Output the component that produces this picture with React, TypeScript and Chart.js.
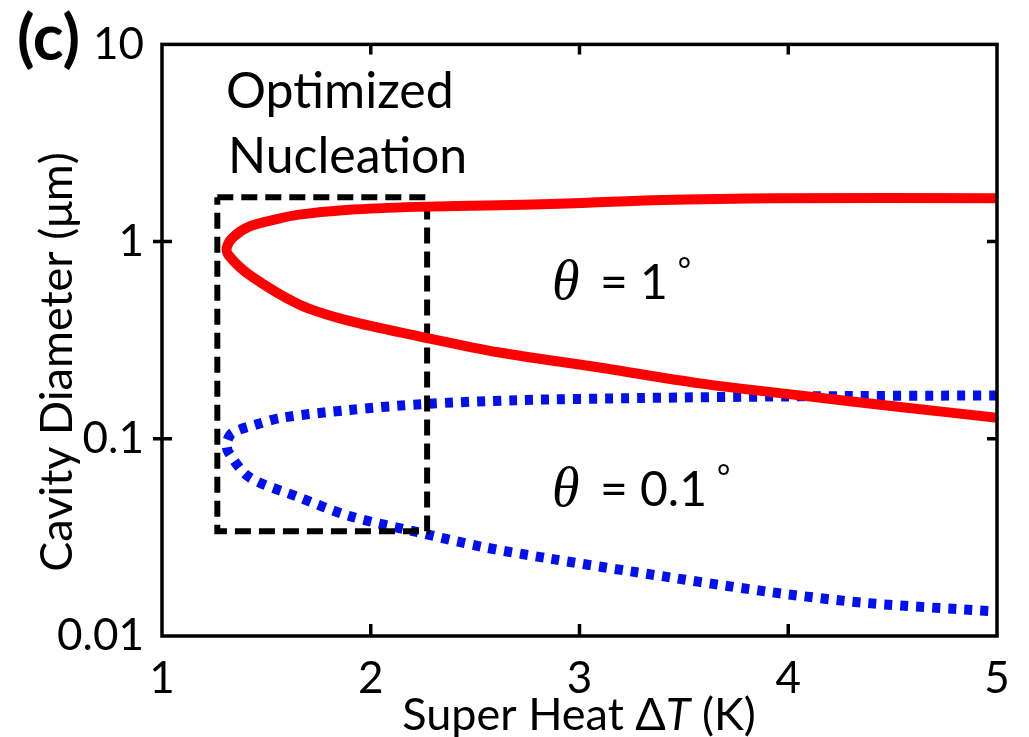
import React, { useEffect, useRef } from "react";
import { Chart, registerables } from "chart.js";

Chart.register(...registerables);

// ---- data ----
const xTicks = [1, 2, 3, 4, 5];
const yTicks = [0.01, 0.1, 1, 10];
const yTickLabels = ["0.01", "0.1", "1", "10"];

// θ = 1° curve: upper branch (from right end to vertex), then lower branch
const theta1X = [5, 3.94, 3.35, 2.94, 2.616, 2.22, 1.897, 1.657, 1.55, 1.417, 1.34, 1.31, 1.32, 1.417, 1.657, 1.897, 2.22, 2.616, 3.096, 3.576, 4.055, 4.535, 5];
const theta1Y = [1.66, 1.66, 1.62, 1.56, 1.53, 1.5, 1.45, 1.37, 1.3, 1.19, 1.05, 0.93, 0.85, 0.68, 0.48, 0.396, 0.333, 0.274, 0.23, 0.191, 0.166, 0.145, 0.128];

// θ = 0.1° curve
const theta01X = [5, 4, 3.3, 2.7, 2.247, 1.897, 1.576, 1.45, 1.336, 1.31, 1.32, 1.417, 1.657, 1.897, 2.22, 2.535, 2.856, 3.254, 3.897, 4.376, 5];
const theta01Y = [0.166, 0.164, 0.161, 0.157, 0.15, 0.14, 0.128, 0.118, 0.107, 0.095, 0.085, 0.064, 0.0505, 0.0406, 0.0337, 0.0283, 0.0247, 0.0212, 0.0168, 0.0147, 0.0133];

// "Optimized Nucleation" dashed box
const boxX = [1.265, 2.27, 2.27, 1.265, 1.265];
const boxY = [1.68, 1.68, 0.034, 0.034, 1.68];

const xTitleParts = ["Super Heat Δ", "T", " (K)"];
const yTitle = "Cavity Diameter (μm)";
const panelLabel = "(c)";
const boxLabel = ["Optimized", "Nucleation"];
const label1 = "1";
const label2 = "0.1";

const SANS = "Lato, 'Open Sans', sans-serif";
const SERIF = "'Liberation Serif', 'DejaVu Serif', serif";

const toPts = (xs: number[], ys: number[]) => xs.map((x, i) => ({ x, y: ys[i] }));

const decorPlugin = {
  id: "decor",
  afterDraw(chart: any) {
    const ctx = chart.ctx as CanvasRenderingContext2D;
    const { left, right, top, bottom } = chart.chartArea;
    const xs = chart.scales.x;
    const ys = chart.scales.y;
    ctx.save();
    // frame
    ctx.strokeStyle = "#000";
    ctx.lineWidth = 3.5;
    ctx.strokeRect(left, top, right - left, bottom - top);
    // ticks
    ctx.lineWidth = 3.5;
    ctx.beginPath();
    for (const v of [2, 3, 4]) {
      const px = xs.getPixelForValue(v);
      ctx.moveTo(px, bottom);
      ctx.lineTo(px, bottom - 12);
      ctx.moveTo(px, top);
      ctx.lineTo(px, top + 10);
    }
    for (const v of [0.1, 1]) {
      const py = ys.getPixelForValue(v);
      ctx.moveTo(left - 9, py);
      ctx.lineTo(left + 10, py);
      ctx.moveTo(right, py);
      ctx.lineTo(right - 10, py);
    }
    ctx.stroke();

    ctx.fillStyle = "#000";
    ctx.textBaseline = "alphabetic";
    // panel label
    ctx.font = `bold 64px ${SANS}`;
    ctx.textAlign = "left";
    ctx.fillText(panelLabel, 17, 60);

    // x title with italic T
    const xf = 45;
    ctx.font = `${xf}px ${SANS}`;
    const p0 = xTitleParts[0];
    const p2 = xTitleParts[2];
    const w0 = ctx.measureText(p0).width;
    const w2 = ctx.measureText(p2).width;
    ctx.font = `italic ${xf}px ${SANS}`;
    const w1 = ctx.measureText(xTitleParts[1]).width;
    const total = w0 + w1 + w2;
    let sx = 579 - total / 2;
    const by = 730;
    ctx.font = `${xf}px ${SANS}`;
    ctx.fillText(p0, sx, by);
    sx += w0;
    ctx.font = `italic ${xf}px ${SANS}`;
    ctx.fillText(xTitleParts[1], sx, by);
    sx += w1;
    ctx.font = `${xf}px ${SANS}`;
    ctx.fillText(p2, sx, by);

    // y title
    ctx.save();
    ctx.translate(72, 362);
    ctx.rotate(-Math.PI / 2);
    ctx.textAlign = "center";
    ctx.font = `45px ${SANS}`;
    ctx.fillText(yTitle, 0, 0);
    ctx.restore();

    // box label
    ctx.font = `50px ${SANS}`;
    ctx.textAlign = "left";
    ctx.fillText(boxLabel[0], 226, 108);
    ctx.fillText(boxLabel[1], 228, 173);

    // theta labels
    const drawTheta = (x: number, y: number, val: string) => {
      ctx.textAlign = "left";
      ctx.font = `italic 56px ${SERIF}`;
      ctx.fillText("θ", x, y);
      ctx.font = `48px ${SANS}`;
      ctx.fillText("=", x + 48, y);
      ctx.fillText(val, x + 88, y);
      const wv = ctx.measureText(val).width;
      ctx.font = `32px ${SANS}`;
      ctx.fillText("°", x + 88 + wv + 10, y - 18);
    };
    drawTheta(552, 299, label1);
    drawTheta(552, 506, label2);
    ctx.restore();
  },
};

export default function App() {
  const ref = useRef<HTMLCanvasElement | null>(null);
  useEffect(() => {
    if (!ref.current) return;
    const chart = new Chart(ref.current, {
      type: "scatter",
      data: {
        datasets: [
          {
            data: toPts(theta1X, theta1Y),
            showLine: true,
            borderColor: "#ff0000",
            borderWidth: 10,
            pointRadius: 0,
            tension: 0.3,
          },
          {
            data: toPts(boxX, boxY),
            showLine: true,
            borderColor: "#000000",
            borderWidth: 6,
            borderDash: [16, 8],
            pointRadius: 0,
            tension: 0,
          },
          {
            data: toPts(theta01X, theta01Y),
            showLine: true,
            borderColor: "#0010f0",
            borderWidth: 10,
            borderDash: [8, 8],
            borderCapStyle: "butt",
            pointRadius: 0,
            tension: 0.3,
          },
        ] as any,
      },
      options: {
        animation: false,
        responsive: false,
        layout: { padding: { left: 0, right: 32, top: 38, bottom: 0 } },
        plugins: { legend: { display: false }, tooltip: { enabled: false } },
        scales: {
          x: {
            type: "linear",
            min: 1,
            max: 5,
            afterBuildTicks: (s: any) => {
              s.ticks = xTicks.map((v) => ({ value: v }));
            },
            afterFit: (s: any) => {
              s.height = 101;
            },
            grid: { display: false, drawTicks: false },
            border: { display: false },
            ticks: {
              padding: 16,
              color: "#000",
              font: { family: SANS, size: 44 },
              callback: (v: any) => String(v),
            },
          },
          y: {
            type: "logarithmic",
            min: 0.01,
            max: 10,
            afterBuildTicks: (s: any) => {
              s.ticks = yTicks.map((v) => ({ value: v }));
            },
            afterFit: (s: any) => {
              s.width = 162;
            },
            grid: { display: false, drawTicks: false },
            border: { display: false },
            ticks: {
              padding: 18,
              color: "#000",
              font: { family: SANS, size: 44 },
              callback: (v: any) => {
                const i = yTicks.findIndex((t) => Math.abs(t - v) / t < 1e-6);
                return i >= 0 ? yTickLabels[i] : "";
              },
            },
          },
        },
      } as any,
      plugins: [decorPlugin],
    });
    return () => chart.destroy();
  }, []);
  return (
    <div style={{ position: "absolute", left: 0, top: 0, width: 1029, height: 737, background: "#fff" }}>
      <canvas ref={ref} width={1029} height={737} />
    </div>
  );
}
